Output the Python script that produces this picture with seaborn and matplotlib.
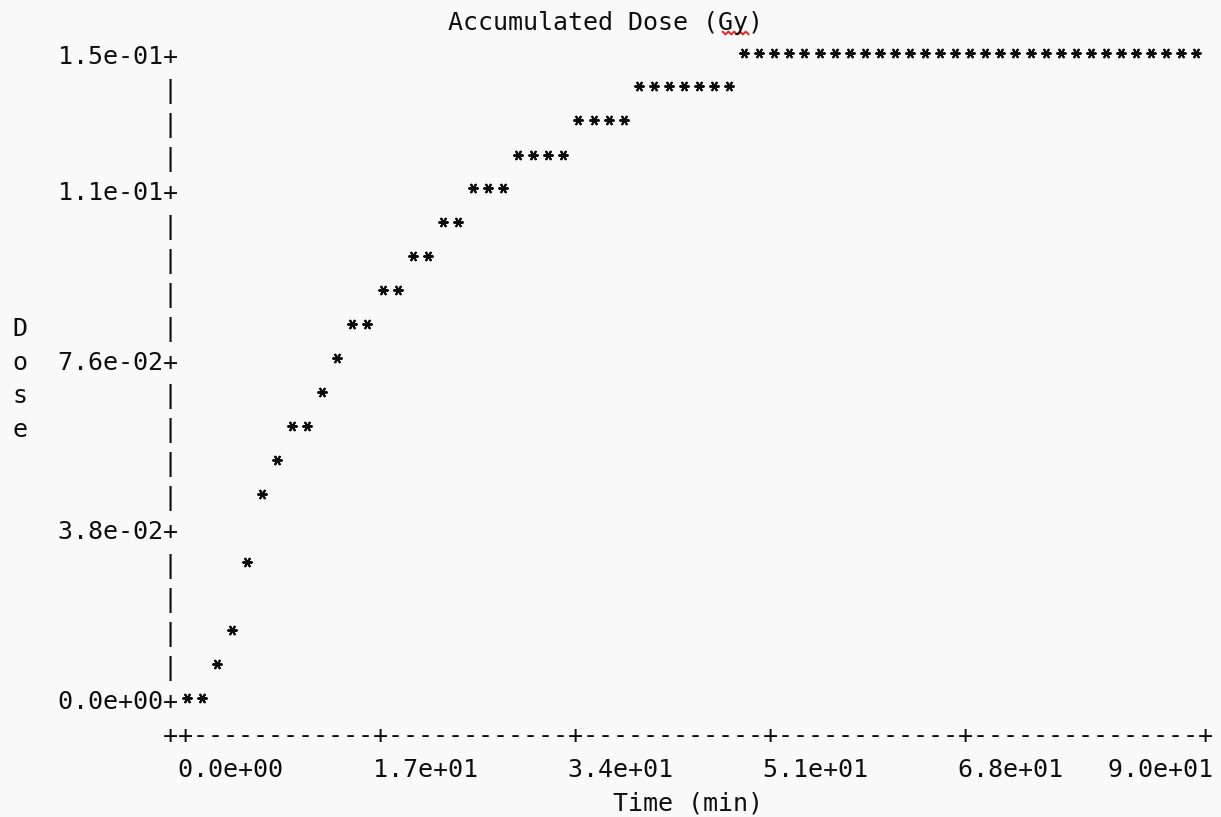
import matplotlib
matplotlib.use("Agg")
import numpy as np
import pandas as pd
import matplotlib.pyplot as plt
from matplotlib.lines import Line2D
import seaborn as sns

# ---- accumulated dose readings -------------------------------------------
time_min = [
    0.00, 1.32, 2.65, 3.97, 5.29, 6.62, 7.94, 9.26, 10.59, 11.91,
    13.24, 14.56, 15.88, 17.21, 18.53, 19.85, 21.18, 22.50, 23.82, 25.15,
    26.47, 27.79, 29.12, 30.44, 31.76, 33.09, 34.41, 35.74, 37.06, 38.38,
    39.71, 41.03, 42.35, 43.68, 45.00, 46.32, 47.65, 48.97, 50.29, 51.62,
    52.94, 54.26, 55.59, 56.91, 58.24, 59.56, 60.88, 62.21, 63.53, 64.85,
    66.18, 67.50, 68.82, 70.15, 71.47, 72.79, 74.12, 75.44, 76.76, 78.09,
    79.41, 80.74, 82.06, 83.38, 84.71, 86.03, 87.35, 88.68,
]
dose_gy = [
    0.0000, 0.0000, 0.0079, 0.0158, 0.0317, 0.0475, 0.0554, 0.0634, 0.0634, 0.0713,
    0.0792, 0.0871, 0.0871, 0.0950, 0.0950, 0.1030, 0.1030, 0.1109, 0.1109, 0.1188,
    0.1188, 0.1188, 0.1267, 0.1267, 0.1267, 0.1267, 0.1347, 0.1347, 0.1347, 0.1347,
    0.1426, 0.1426, 0.1426, 0.1426, 0.1426, 0.1426, 0.1426, 0.1505, 0.1505, 0.1505,
    0.1505, 0.1505, 0.1505, 0.1505, 0.1505, 0.1505, 0.1505, 0.1505, 0.1505, 0.1505,
    0.1505, 0.1505, 0.1505, 0.1505, 0.1505, 0.1505, 0.1505, 0.1505, 0.1505, 0.1505,
    0.1505, 0.1505, 0.1505, 0.1505, 0.1505, 0.1505, 0.1505, 0.1505,
]

title = "Accumulated Dose (Gy)"
x_label = "Time (min)"
y_label = "Dose"
y_tick_values = [0.15, 0.11, 0.076, 0.038, 0.0]
x_tick_values = [0.0, 17.0, 34.0, 51.0, 68.0, 90.0]

# ---- character-grid layout (pixels) ---------------------------------------
W, H, DPI = 1221, 817, 100
CW = 15.07        # character advance
LH = 33.95        # line pitch
X0 = 20.8         # centre of column 0
BASE0 = 64.0      # baseline of row 0 (from top)
MARK0 = 52.5      # asterisk centre on row 0 (from top)
N_COLS = 80

AXIS_COL = 10
PLOT_COL0, PLOT_COL1 = 11, 79          # columns of t = first / last x tick
PLOT_ROW_TOP, PLOT_ROW_BOTTOM = 0, 19  # rows of max / min dose
y_tick_rows = [0, 4, 9, 14, 19]
x_tick_cols = [11, 24, 37, 50, 63, 79]
x_label_cols = [11, 24, 37, 50, 63, 73]
Y_LABEL_ROW0 = 8
TITLE_COL, TITLE_ROW = 29, -1
XLABEL_COL, XLABEL_ROW = 40, 22
AXIS_ROW, TICKLABEL_ROW = 20, 21

BG = "#f9f9f9"
INK = "#0e0e0e"
FONT = ["DejaVu Sans Mono"]
FONT_PT = CW / 0.60205 * 72 / DPI   # DejaVu Sans Mono advance is 0.602 em

sns.set_theme(style="white")
plt.rcParams["font.family"] = FONT

fig = plt.figure(figsize=(W / DPI, H / DPI), dpi=DPI, facecolor=BG)
ax = fig.add_axes([0, 0, 1, 1])
ax.set_facecolor(BG)
ax.set_axis_off()

# ---- data scales mapped onto the character grid ---------------------------
t0, t1 = x_tick_values[0], x_tick_values[-1]
d0, d1 = min(dose_gy), max(dose_gy)


def t_at_px(px):
    return t0 + ((px - X0) / CW - PLOT_COL0) * (t1 - t0) / (PLOT_COL1 - PLOT_COL0)


def d_at_py(py):
    rows_up = PLOT_ROW_BOTTOM - (py - MARK0) / LH
    return d0 + rows_up * (d1 - d0) / (PLOT_ROW_BOTTOM - PLOT_ROW_TOP)


ax.set_xlim(t_at_px(0), t_at_px(W))
ax.set_ylim(d_at_py(H), d_at_py(0))

df = pd.DataFrame({"time": time_min, "dose": dose_gy})
sns.scatterplot(
    data=df, x="time", y="dose", ax=ax,
    marker=(6, 2, 90), s=40, color=INK, edgecolor=INK, linewidth=1.45,
    legend=False, zorder=3,
)

# ---- text frame -------------------------------------------------------------
lines = {}
for r in range(PLOT_ROW_TOP, PLOT_ROW_BOTTOM + 1):
    row = [" "] * N_COLS
    row[AXIS_COL] = "|"
    lines[r] = row
for v, r in zip(y_tick_values, y_tick_rows):
    lab = f"{v:.1e}"
    lines[r][AXIS_COL - len(lab):AXIS_COL] = list(lab)
    lines[r][AXIS_COL] = "+"
for i, ch in enumerate(y_label):
    lines[Y_LABEL_ROW0 + i][0] = ch

axis_row = [" "] * N_COLS
axis_row[AXIS_COL] = "+"
for c in range(AXIS_COL + 1, PLOT_COL1):
    axis_row[c] = "-"
for c in x_tick_cols:
    axis_row[c] = "+"
lines[AXIS_ROW] = axis_row

tick_row = [" "] * N_COLS
for v, c in zip(x_tick_values, x_label_cols):
    lab = f"{v:.1e}"
    tick_row[c:c + len(lab)] = list(lab)
lines[TICKLABEL_ROW] = tick_row

lines[TITLE_ROW] = list(" " * TITLE_COL + title)
lines[XLABEL_ROW] = list(" " * XLABEL_COL + x_label)

left_px = X0 - 1.5 * CW   # each line starts with one space at column -1
for r, row in lines.items():
    s = " " + "".join(row).rstrip()
    base_py = BASE0 + LH * r
    fig.text(left_px / W, 1 - base_py / H, s, ha="left", va="baseline",
             family=FONT, fontsize=FONT_PT, color=INK)

# wavy red underline beneath the unit in the title
g_col = TITLE_COL + title.index("Gy")
wx0 = X0 + CW * g_col - CW / 2 + 1
wx1 = X0 + CW * (g_col + 1) + CW / 2 - 3
wx = np.linspace(wx0, wx1, 10)
wy = 33.0 + np.where(np.arange(10) % 2 == 0, -1.4, 1.4)
fig.add_artist(Line2D(wx / W, 1 - wy / H, transform=fig.transFigure,
                      color="#e8231f", linewidth=1.4))

fig.savefig("out.png", dpi=DPI, facecolor=BG)
